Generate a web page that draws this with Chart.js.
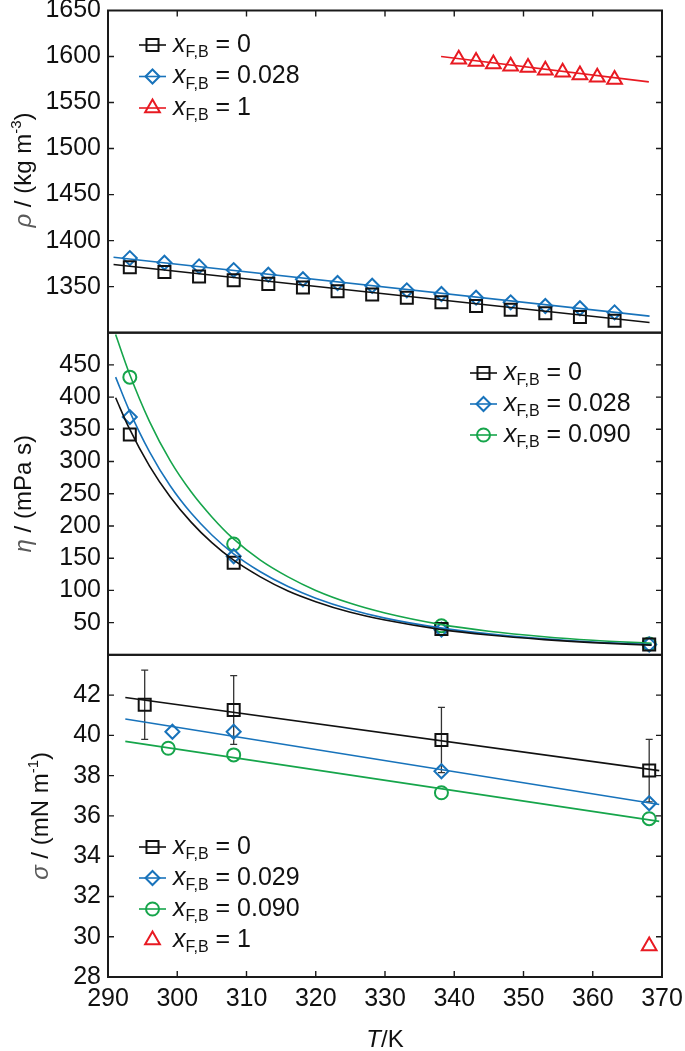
<!DOCTYPE html>
<html>
<head>
<meta charset="utf-8">
<script src="https://cdn.jsdelivr.net/npm/chart.js@4/dist/chart.umd.min.js"></script>
<style>
  html, body { margin: 0; padding: 0; background: #fff; }
</style>
</head>
<body>
<canvas id="chart" width="685" height="1051"></canvas>
<script>
// --- density panel ---
const tRho = [293.15, 298.15, 303.15, 308.15, 313.15, 318.15, 323.15, 328.15, 333.15, 338.15, 343.15, 348.15, 353.15, 358.15, 363.15];
const rhoX0 = [1371, 1366, 1361, 1357, 1353, 1349, 1345, 1341.5, 1338, 1333, 1329, 1325, 1321, 1317, 1313];
const rhoX028 = [1381, 1376, 1372, 1368, 1363, 1358, 1354, 1351, 1346, 1342, 1338, 1333, 1329, 1326.5, 1322];
const tRhoPure = [340.65, 343.15, 345.65, 348.15, 350.65, 353.15, 355.65, 358.15, 360.65, 363.15];
const rhoPure = [1597, 1594.5, 1592, 1589.5, 1588, 1585, 1583, 1580, 1577.5, 1575];
const rhoFitT = [290.8, 368.2];
const rhoFitX0 = [1374, 1311];
const rhoFitX028 = [1382, 1318];
const rhoFitPureT = [338.1, 368.1];
const rhoFitPure = [1600, 1572.5];
const rhoLabels = ['0', '0.028', '1'];

// --- viscosity panel ---
const tEta = [293.15, 308.15, 338.15, 368.15];
const etaX0 = [342, 143, 40, 16];
const etaX028 = [369, 153, 39, 16];
const etaX090 = [431, 172, 45, 17];
const etaFitT = [291.1, 293, 296, 299, 302, 305, 308, 312, 316, 320, 325, 330, 338, 345, 353, 360, 368.5];
const etaFitX0 = [399, 353, 293, 245, 206, 174, 148, 121, 99, 82.5, 66, 54, 39.5, 30.7, 23.6, 19, 15];
const etaFitX028 = [431, 381, 315, 262, 220, 186, 158, 129, 106, 88, 70.4, 57, 41.8, 32.5, 24.9, 20, 15.8];
const etaFitX090 = [497, 439, 362, 301, 253, 214, 181, 147, 121, 100, 80, 65, 47.3, 36.7, 28.1, 22.6, 17.8];
const etaLabels = ['0', '0.028', '0.090'];

// --- surface tension panel ---
const tSigX0 = [295.3, 308.15, 338.15, 368.15];
const sigX0 = [41.52, 41.26, 39.77, 38.25];
const sigErrX0 = [1.72, 1.71, 1.62, 1.55];
const tSigX029 = [299.3, 308.15, 338.15, 368.15];
const sigX029 = [40.18, 40.18, 38.22, 36.63];
const tSigX090 = [298.7, 308.15, 338.15, 368.15];
const sigX090 = [39.36, 39.03, 37.15, 35.86];
const tSigPure = [368.15];
const sigPure = [29.54];
const sigFitT = [292.5, 369.6];
const sigFitX0 = [41.88, 38.25];
const sigFitX029 = [40.81, 36.57];
const sigFitX090 = [39.7, 35.73];
const sigLabels = ['0', '0.029', '0.090', '1'];

const BLACK = '#111111', BLUE = '#1873bb', GREEN = '#16a54b', RED = '#e81a22';
const FONT = '"Liberation Sans", Arial, sans-serif';
const GREEK = '#5a5a5a';

const pts = (xs, ys) => xs.map((x, i) => ({ x: x, y: ys[i] }));

function fitLine(xs, ys, color, axis, smooth) {
  return {
    data: pts(xs, ys), yAxisID: axis, showLine: true,
    borderColor: color, borderWidth: 1.6, pointRadius: 0,
    cubicInterpolationMode: smooth ? 'monotone' : 'default', tension: 0
  };
}
function markers(xs, ys, color, style, r, axis) {
  return {
    data: pts(xs, ys), yAxisID: axis, showLine: false,
    pointStyle: style, pointRadius: r, pointBorderColor: color,
    pointBackgroundColor: 'rgba(0,0,0,0)', pointBorderWidth: 2
  };
}

const SQ = ['rect', 8.5], DI = ['rectRot', 7], CI = ['circle', 6.5], TR = ['triangle', 8.5];

const datasets = [
  fitLine(rhoFitT, rhoFitX0, BLACK, 'yRho'),
  fitLine(rhoFitT, rhoFitX028, BLUE, 'yRho'),
  fitLine(rhoFitPureT, rhoFitPure, RED, 'yRho'),
  markers(tRho, rhoX0, BLACK, SQ[0], SQ[1], 'yRho'),
  markers(tRho, rhoX028, BLUE, DI[0], DI[1], 'yRho'),
  markers(tRhoPure, rhoPure, RED, TR[0], TR[1], 'yRho'),

  fitLine(etaFitT, etaFitX0, BLACK, 'yEta', true),
  fitLine(etaFitT, etaFitX028, BLUE, 'yEta', true),
  fitLine(etaFitT, etaFitX090, GREEN, 'yEta', true),
  markers(tEta, etaX0, BLACK, SQ[0], SQ[1], 'yEta'),
  markers(tEta, etaX028, BLUE, DI[0], DI[1], 'yEta'),
  markers(tEta, etaX090, GREEN, CI[0], CI[1], 'yEta'),

  fitLine(sigFitT, sigFitX0, BLACK, 'ySig'),
  fitLine(sigFitT, sigFitX029, BLUE, 'ySig'),
  fitLine(sigFitT, sigFitX090, GREEN, 'ySig'),
  markers(tSigX0, sigX0, BLACK, SQ[0], SQ[1], 'ySig'),
  markers(tSigX029, sigX029, BLUE, DI[0], DI[1], 'ySig'),
  markers(tSigX090, sigX090, GREEN, CI[0], CI[1], 'ySig'),
  markers(tSigPure, sigPure, RED, TR[0], TR[1], 'ySig')
];

const panelAxes = ['yRho', 'yEta', 'ySig'];
const TICK_SIZE = 25;

function yAxis(min, max, step, hide) {
  return {
    type: 'linear', position: 'left', stack: 'panels', stackWeight: 1,
    min: min, max: max,
    grid: { display: false, drawTicks: false }, border: { display: false },
    ticks: {
      stepSize: step, padding: 7, color: BLACK, autoSkip: false,
      font: { family: FONT, size: TICK_SIZE },
      callback: v => hide.includes(v) ? '' : v
    },
    afterFit: s => { s.width = 108; s.paddingTop = 0; s.paddingBottom = 0; }
  };
}

// draws a run of text pieces (italic symbols, sub/superscripts)
function drawParts(ctx, parts, x, y, center, rotate) {
  ctx.save();
  ctx.translate(x, y);
  if (rotate) ctx.rotate(-Math.PI / 2);
  let w = 0;
  parts.forEach(p => { ctx.font = p.font; p.w = ctx.measureText(p.t).width; w += p.w; });
  let cx = center ? -w / 2 : 0;
  ctx.textAlign = 'left';
  ctx.textBaseline = 'middle';
  parts.forEach(p => {
    ctx.font = p.font;
    ctx.fillStyle = p.color || BLACK;
    ctx.fillText(p.t, cx, p.dy || 0);
    cx += p.w;
  });
  ctx.restore();
}

const F24 = '24px ' + FONT, I24 = 'italic 24px ' + FONT, F15 = '15px ' + FONT;
const L25 = '25px ' + FONT, LI25 = 'italic 25px ' + FONT, L16 = '16px ' + FONT;

function legendEntry(ctx, x0, y, color, mk, withLine, label) {
  ctx.save();
  ctx.strokeStyle = color;
  if (withLine) {
    ctx.lineWidth = 1.6;
    ctx.beginPath(); ctx.moveTo(x0, y); ctx.lineTo(x0 + 27, y); ctx.stroke();
  }
  ctx.lineWidth = 2;
  ctx.fillStyle = 'rgba(0,0,0,0)';
  Chart.helpers.drawPoint(ctx, { pointStyle: mk[0], radius: mk[1], borderWidth: 2, rotation: 0 }, x0 + 13.5, y);
  ctx.restore();
  drawParts(ctx, [
    { t: 'x', font: LI25 },
    { t: 'F,B', font: L16, dy: 8 },
    { t: ' = ' + label, font: L25 }
  ], x0 + 34, y, false, false);
}

const decor = {
  id: 'decor',
  beforeDatasetsDraw(chart) {
    const ctx = chart.ctx, sx = chart.scales.x, sy = chart.scales.ySig;
    ctx.save();
    ctx.strokeStyle = '#333';
    ctx.lineWidth = 1.3;
    tSigX0.forEach((t, i) => {
      const px = sx.getPixelForValue(t);
      const top = sy.getPixelForValue(sigX0[i] + sigErrX0[i]);
      const bot = sy.getPixelForValue(sigX0[i] - sigErrX0[i]);
      ctx.beginPath();
      ctx.moveTo(px, top); ctx.lineTo(px, bot);
      ctx.moveTo(px - 3.5, top); ctx.lineTo(px + 3.5, top);
      ctx.moveTo(px - 3.5, bot); ctx.lineTo(px + 3.5, bot);
      ctx.stroke();
    });
    ctx.restore();
  },
  afterDatasetsDraw(chart) {
    const ctx = chart.ctx, sx = chart.scales.x;
    const L = sx.left, R = sx.right;
    ctx.save();
    ctx.strokeStyle = '#1a1a1a';
    ctx.lineWidth = 1.4;
    ctx.beginPath();
    panelAxes.forEach(id => {
      const s = chart.scales[id];
      s.ticks.forEach(t => {
        const py = s.getPixelForValue(t.value);
        if (py <= s.top + 1 || py >= s.bottom - 1) return;
        ctx.moveTo(L, py); ctx.lineTo(L + 6, py);
        ctx.moveTo(R, py); ctx.lineTo(R - 6, py);
      });
    });
    const topS = chart.scales.yRho, botS = chart.scales.ySig;
    sx.ticks.forEach(t => {
      const px = sx.getPixelForValue(t.value);
      if (px <= L + 1 || px >= R - 1) return;
      ctx.moveTo(px, topS.top); ctx.lineTo(px, topS.top + 6);
      ctx.moveTo(px, botS.bottom); ctx.lineTo(px, botS.bottom - 6);
    });
    ctx.stroke();
    ctx.lineWidth = 2;
    panelAxes.forEach(id => {
      const s = chart.scales[id];
      ctx.strokeRect(L, s.top, R - L, s.bottom - s.top);
    });
    ctx.restore();

    // legends
    const rhoY = [45, 76.5, 108], etaY = [373, 404, 435], sigY = [847, 878, 909, 940];
    const rhoMk = [[BLACK, SQ], [BLUE, DI], [RED, TR]];
    const etaMk = [[BLACK, SQ], [BLUE, DI], [GREEN, CI]];
    const sigMk = [[BLACK, SQ], [BLUE, DI], [GREEN, CI], [RED, TR]];
    rhoLabels.forEach((lb, i) => legendEntry(ctx, 139, rhoY[i], rhoMk[i][0], rhoMk[i][1], true, lb));
    etaLabels.forEach((lb, i) => legendEntry(ctx, 470, etaY[i], etaMk[i][0], etaMk[i][1], true, lb));
    sigLabels.forEach((lb, i) => legendEntry(ctx, 139, sigY[i], sigMk[i][0], sigMk[i][1], i < 3, lb));

    // axis titles
    const etaS = chart.scales.yEta;
    drawParts(ctx, [
      { t: 'ρ', font: I24, color: GREEK }, { t: ' / (kg m', font: F24 },
      { t: '-3', font: F15, dy: -7 }, { t: ')', font: F24 }
    ], 24, 170, true, true);
    drawParts(ctx, [
      { t: 'η', font: I24, color: GREEK }, { t: ' / (mPa s)', font: F24 }
    ], 24, (etaS.top + etaS.bottom) / 2, true, true);
    drawParts(ctx, [
      { t: 'σ', font: I24, color: GREEK }, { t: ' / (mN m', font: F24 },
      { t: '-1', font: F15, dy: -7 }, { t: ')', font: F24 }
    ], 41, (botS.top + botS.bottom) / 2, true, true);
    drawParts(ctx, [
      { t: 'T', font: I24 }, { t: '/K', font: F24 }
    ], (L + R) / 2, 1040, true, false);
  }
};

new Chart(document.getElementById('chart'), {
  type: 'scatter',
  data: { datasets: datasets },
  options: {
    responsive: false,
    animation: false,
    layout: { padding: { top: 9, right: 23, left: 0, bottom: 0 } },
    plugins: { legend: { display: false }, tooltip: { enabled: false } },
    scales: {
      x: {
        type: 'linear', position: 'bottom', min: 290, max: 370,
        grid: { display: false, drawTicks: false }, border: { display: false },
        ticks: { stepSize: 10, padding: 7, color: BLACK, maxRotation: 0, autoSkip: false, font: { family: FONT, size: TICK_SIZE } },
        afterFit: s => { s.height = 74; s.paddingLeft = 0; s.paddingRight = 0; }
      },
      ySig: yAxis(28, 44, 2, [44]),
      yEta: yAxis(0, 500, 50, [0, 500]),
      yRho: yAxis(1300, 1650, 50, [1300])
    }
  },
  plugins: [decor]
});
</script>
</body>
</html>
